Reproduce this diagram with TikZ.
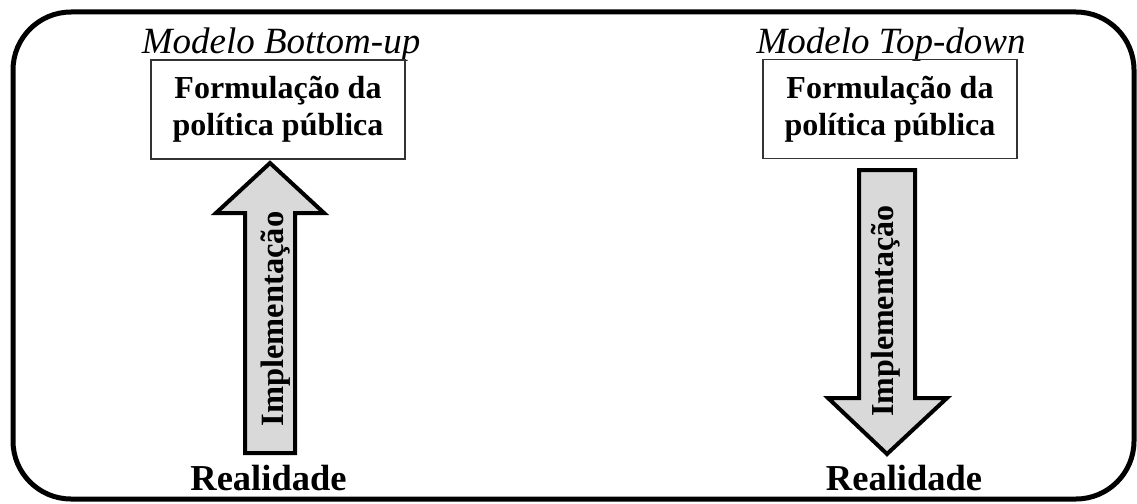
\documentclass[tikz,border=0pt]{standalone}
\usepackage{fontspec}
\setmainfont{Liberation Serif}
\begin{document}
\begin{tikzpicture}[x=1pt,y=-1pt,
  frame/.style={line width=5pt, rounded corners=58pt},
  formbox/.style={draw=black!80, line width=1.5pt, minimum width=254pt, minimum height=99pt, align=center, inner sep=0pt, font=\fontsize{32}{37}\selectfont\bfseries},
  modeltitle/.style={anchor=base, inner sep=0pt, font=\fontsize{37}{44}\selectfont\itshape},
  reallabel/.style={anchor=base, inner sep=0pt, font=\fontsize{36.5}{42}\selectfont\bfseries},
  implabel/.style={anchor=base, rotate=90, inner sep=0pt},
  blockarrow/.style={draw=black, fill=black!15, line width=4pt, line join=miter}
]
\useasboundingbox (0,0) rectangle (1137,503);
\draw[frame] (13,12) rectangle (1134,499);

% left: bottom-up
\node[modeltitle] (tl) at (281,53) {Modelo Bottom-up};
\node[formbox] (fl) at (278,109.5) {Formulação da\\política pública};
\draw[blockarrow] (245,453) -- (245,213) -- (216,213) -- (270,163) -- (324,213) -- (295,213) -- (295,453) -- cycle;
\node[implabel, font=\fontsize{32.5}{37}\selectfont\bfseries] (il) at (283,319) {Implementação};
\node[reallabel] (rl) at (268.5,490) {Realidade};

% right: top-down
\node[modeltitle] (tr) at (891,53) {Modelo Top-down};
\node[formbox] (fr) at (890,109) {Formulação da\\política pública};
\draw[blockarrow] (859,170) -- (915,170) -- (915,398) -- (947,398) -- (887,454) -- (828,398) -- (859,398) -- cycle;
\node[implabel, font=\fontsize{32}{37}\selectfont\bfseries] (ir) at (893,311) {Implementação};
\node[reallabel] (rr) at (904,490) {Realidade};
\end{tikzpicture}
\end{document}
